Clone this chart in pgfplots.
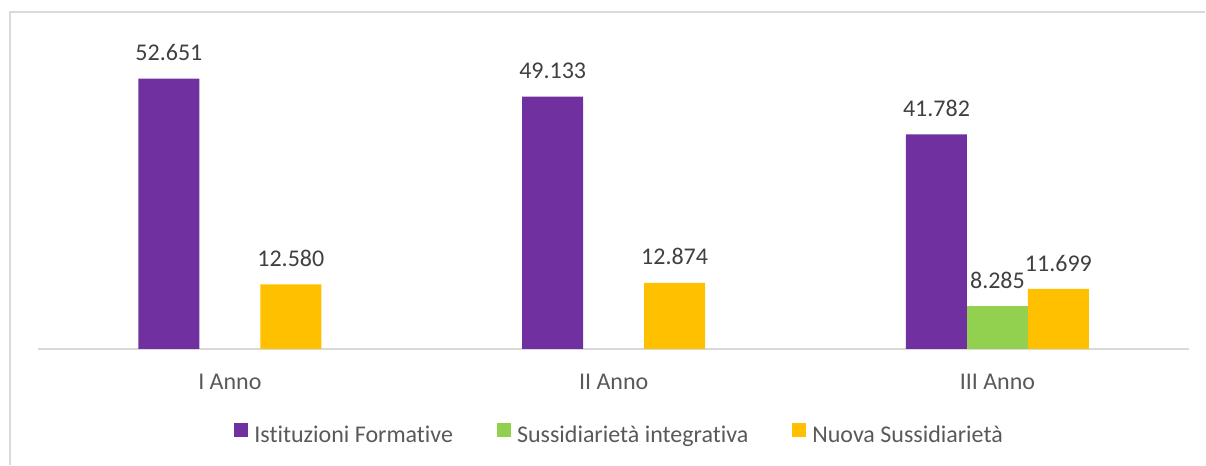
\documentclass[border=0pt]{standalone}
\usepackage{fontspec}
\setmainfont{Carlito}[Ligatures=NoCommon]
\usepackage{pgfplots}
\pgfplotsset{compat=1.18}
\definecolor{cPurple}{HTML}{7030A0}
\definecolor{cGreen}{HTML}{92D050}
\definecolor{cYellow}{HTML}{FFC000}
\definecolor{cLine}{HTML}{D9D9D9}
\definecolor{cLabel}{HTML}{404040}
\definecolor{cText}{HTML}{595959}

\begin{document}
\begin{tikzpicture}
\begin{axis}[
    name=ax,
    scale only axis,
    width=432pt, height=115.5pt,
    ybar=0pt, bar width=22.875pt,
    xmin=-0.5, xmax=2.5,
    ymin=0, ymax=60000,
    axis x line*=bottom,
    axis y line=none,
    x axis line style={cLine, line width=0.75pt},
    xtick={0,1,2},
    xticklabels={I Anno, II Anno, III Anno},
    xtick style={draw=none},
    xticklabel style={anchor=base, inner sep=0pt, yshift=-10.9pt,
        font=\fontsize{9}{11}\selectfont, text=cText},
    nodes near coords,
    every node near coord/.append style={anchor=south, inner sep=0pt,
        yshift=6.4pt, font=\fontsize{9}{11}\selectfont, text=cLabel,
        /pgf/number format/.cd, fixed, precision=0, 1000 sep={.},
        assume math mode=true},
    legend columns=-1,
    legend style={at={(0.5043,-0.279)}, anchor=center, draw=none, fill=none,
        font=\fontsize{9}{11}\selectfont, text=cText,
        nodes={inner sep=0pt},
        /tikz/every odd column/.append style={column sep=2.25pt},
        /tikz/every even column/.append style={column sep=16.5pt}},
    legend image code/.code={\fill[#1] (0pt,0pt) rectangle (5.25pt,5.25pt);},
]
\addplot[fill=cPurple, draw=none] coordinates {(0,52651) (1,49133) (2,41782)};
\addlegendentry{Istituzioni Formative}
\addplot[fill=cGreen, draw=none] coordinates {(2,8285)};
\addlegendentry{Sussidiarietà integrativa}
\addplot[fill=cYellow, draw=none] coordinates {(0,12580) (1,12874) (2,11699)};
\addlegendentry{Nuova Sussidiarietà}
\end{axis}
% frame of the chart area, relative to the axis corner (1px = 0.375pt)
\draw[cLine,line width=0.5pt] ([shift={(-10.5pt,-43.5pt)}]ax.south west)
    -- ([shift={(-10.5pt,126.375pt)}]ax.south west)
    -- ([shift={(438pt,126.375pt)}]ax.south west);
\path[use as bounding box] ([shift={(-14.25pt,-43.5pt)}]ax.south west)
    rectangle ([shift={(438pt,130.875pt)}]ax.south west);
\end{tikzpicture}
\end{document}
